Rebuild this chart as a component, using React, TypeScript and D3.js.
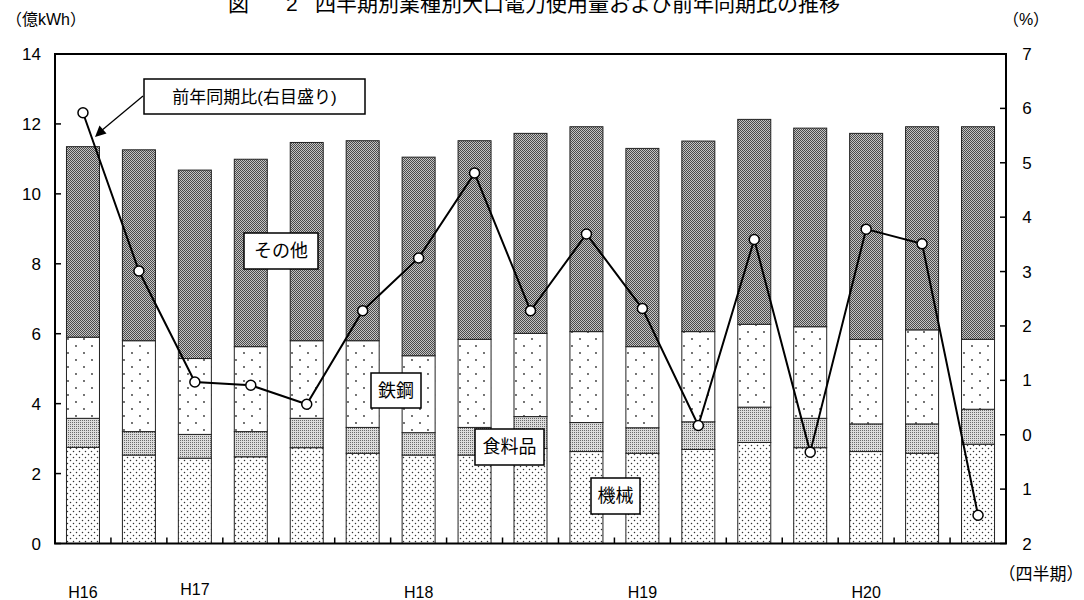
import React from "react";
import * as d3 from "d3";

const quarters = ["1","2","3","4","5","6","7","8","9","10","11","12","13","14","15","16","17"];
const yearLabels = ["H16", "H17", "H18", "H19", "H20"];
const yearLabelIndex = [0, 2, 6, 10, 14];
const machine = [2.75, 2.53, 2.44, 2.48, 2.74, 2.58, 2.53, 2.53, 2.72, 2.63, 2.58, 2.69, 2.89, 2.74, 2.63, 2.58, 2.84];
const food = [0.83, 0.67, 0.68, 0.72, 0.84, 0.74, 0.64, 0.79, 0.91, 0.83, 0.73, 0.79, 1.01, 0.84, 0.79, 0.84, 1.0];
const steel = [2.32, 2.6, 2.17, 2.43, 2.22, 2.48, 2.2, 2.52, 2.38, 2.6, 2.32, 2.58, 2.37, 2.62, 2.42, 2.69, 2.0];
const other = [5.45, 5.46, 5.39, 5.36, 5.67, 5.72, 5.68, 5.68, 5.72, 5.86, 5.67, 5.45, 5.86, 5.68, 5.89, 5.81, 6.08];
const yoy = [5.92, 3.01, 0.97, 0.91, 0.56, 2.28, 3.25, 4.81, 2.28, 3.69, 2.32, 0.17, 3.59, -0.32, 3.78, 3.51, -1.48];
const leftTicks = [0, 2, 4, 6, 8, 10, 12, 14];
const rightTicks = [7, 6, 5, 4, 3, 2, 1, 0, -1, -2];
const rightTickLabels = ["7", "6", "5", "4", "3", "2", "1", "0", "1", "2"];
const seriesKeys = ["machine", "food", "steel", "other"];

const FONT = "'Liberation Sans', Arial, 'Noto Sans CJK JP', sans-serif";

export default function App() {
  const L = 55, R = 1006, T = 54, B = 543.5;
  const x = d3.scaleBand<string>().domain(quarters).range([L, R]).paddingInner(0.41).paddingOuter(0.205);
  const yL = d3.scaleLinear().domain([0, 14]).range([B, T]);
  const yR = d3.scaleLinear().domain([-2, 7]).range([B, T]);
  const rows = quarters.map((q, i) => ({ q, machine: machine[i], food: food[i], steel: steel[i], other: other[i] }));
  const stacked = d3.stack<any>().keys(seriesKeys)(rows);
  const fills: Record<string, string> = { machine: "url(#pMachine)", food: "url(#pFood)", steel: "url(#pSteel)", other: "url(#pOther)" };
  const cx = (i: number) => (x(quarters[i]) as number) + x.bandwidth() / 2;
  const line = d3.line<number>().x((_, i) => cx(i)).y((d) => yR(d));
  const step = x.step();

  const labelBox = (bx: number, by: number, w: number, h: number, text: string, fs: number) => (
    <g>
      <rect x={bx} y={by} width={w} height={h} fill="#fff" stroke="#000" strokeWidth={1.5} />
      <text x={bx + w / 2} y={by + h / 2 + fs * 0.36} textAnchor="middle" fontSize={fs} fontFamily={FONT} fill="#000">{text}</text>
    </g>
  );

  return (
    <svg width={1084} height={600} style={{ position: "absolute", left: 0, top: 0, background: "#fff" }}>
      <defs>
        <pattern id="pOther" patternUnits="userSpaceOnUse" width={2} height={2}>
          <rect width={2} height={2} fill="#c4c4c4" />
          <rect x={0} y={0} width={1} height={1} fill="#4a4a4a" />
          <rect x={1} y={1} width={1} height={1} fill="#4a4a4a" />
        </pattern>
        <pattern id="pFood" patternUnits="userSpaceOnUse" width={2} height={2}>
          <rect width={2} height={2} fill="#dcdcdc" />
          <rect x={0} y={0} width={1} height={1} fill="#6a6a6a" />
        </pattern>
        <pattern id="pSteel" patternUnits="userSpaceOnUse" width={16} height={14}>
          <rect width={16} height={14} fill="#fff" />
          <circle cx={4} cy={3} r={0.9} fill="#333" />
          <circle cx={12} cy={10} r={0.9} fill="#333" />
        </pattern>
        <pattern id="pMachine" patternUnits="userSpaceOnUse" width={6} height={6}>
          <rect width={6} height={6} fill="#fff" />
          <circle cx={1.5} cy={1.5} r={0.75} fill="#333" />
          <circle cx={4.5} cy={4.5} r={0.75} fill="#333" />
        </pattern>
      </defs>

      {/* title (partially cut at top, as in the reference) */}
      <text x={228} y={11} fontSize={21} fontFamily={FONT} fill="#000">図</text>
      <text x={286} y={11} fontSize={21} fontFamily={FONT} fill="#000">2</text>
      <text x={315} y={11} fontSize={21} fontFamily={FONT} fill="#000">四半期別業種別大口電力使用量および前年同期比の推移</text>

      <text x={6} y={25} fontSize={16} fontFamily={FONT} fill="#000">（億kWh）</text>
      <text x={1026} y={25} fontSize={16} fontFamily={FONT} textAnchor="middle" fill="#000">（%）</text>

      {/* bars */}
      {stacked.map((s) => (
        <g key={s.key}>
          {s.map((d, i) => (
            <rect key={i} x={x(quarters[i])} y={yL(d[1])} width={x.bandwidth()} height={yL(d[0]) - yL(d[1])}
              fill={fills[s.key]} stroke="#222" strokeWidth={1} />
          ))}
        </g>
      ))}

      {/* frame */}
      <rect x={L} y={T} width={R - L} height={B - T} fill="none" stroke="#000" strokeWidth={2} />

      {/* left axis */}
      {leftTicks.map((t) => (
        <g key={"l" + t}>
          <line x1={L} x2={L + 6} y1={yL(t)} y2={yL(t)} stroke="#000" strokeWidth={1.5} />
          <text x={41} y={yL(t) + 6} fontSize={17} textAnchor="end" fontFamily={FONT} fill="#000">{t}</text>
        </g>
      ))}
      {/* right axis */}
      {rightTicks.map((t, i) => (
        <g key={"r" + t}>
          <line x1={R - 6} x2={R} y1={yR(t)} y2={yR(t)} stroke="#000" strokeWidth={1.5} />
          <text x={1027} y={yR(t) + 6} fontSize={17} textAnchor="middle" fontFamily={FONT} fill="#000">{rightTickLabels[i]}</text>
        </g>
      ))}
      {/* bottom ticks */}
      {quarters.slice(1).map((q, i) => (
        <line key={"b" + q} x1={L + step * (i + 1)} x2={L + step * (i + 1)} y1={B} y2={B - 6} stroke="#000" strokeWidth={1.5} />
      ))}
      {yearLabels.map((lab, i) => (
        <text key={lab} x={cx(yearLabelIndex[i])} y={lab === "H17" ? 595 : 598} fontSize={16} textAnchor="middle" fontFamily={FONT} fill="#000">{lab}</text>
      ))}
      <text x={1041} y={580} fontSize={17} textAnchor="middle" fontFamily={FONT} fill="#000">（四半期）</text>

      {/* yoy line */}
      <path d={line(yoy) || ""} fill="none" stroke="#000" strokeWidth={2} />
      {yoy.map((v, i) => (
        <circle key={"c" + i} cx={cx(i)} cy={yR(v)} r={5} fill="#fff" stroke="#000" strokeWidth={1.5} />
      ))}

      {/* annotation */}
      {labelBox(144, 79, 221, 35, "前年同期比(右目盛り)", 17)}
      <line x1={143} y1={96} x2={101} y2={131} stroke="#000" strokeWidth={1.3} />
      <path d="M95,137 L99.5,125.5 L106.5,133.5 Z" fill="#000" />
      {labelBox(244, 233, 74, 36, "その他", 18)}
      {labelBox(371, 373, 50, 35, "鉄鋼", 18)}
      {labelBox(475, 429, 69, 36, "食料品", 18)}
      {labelBox(591, 478, 49, 36, "機械", 18)}
    </svg>
  );
}
